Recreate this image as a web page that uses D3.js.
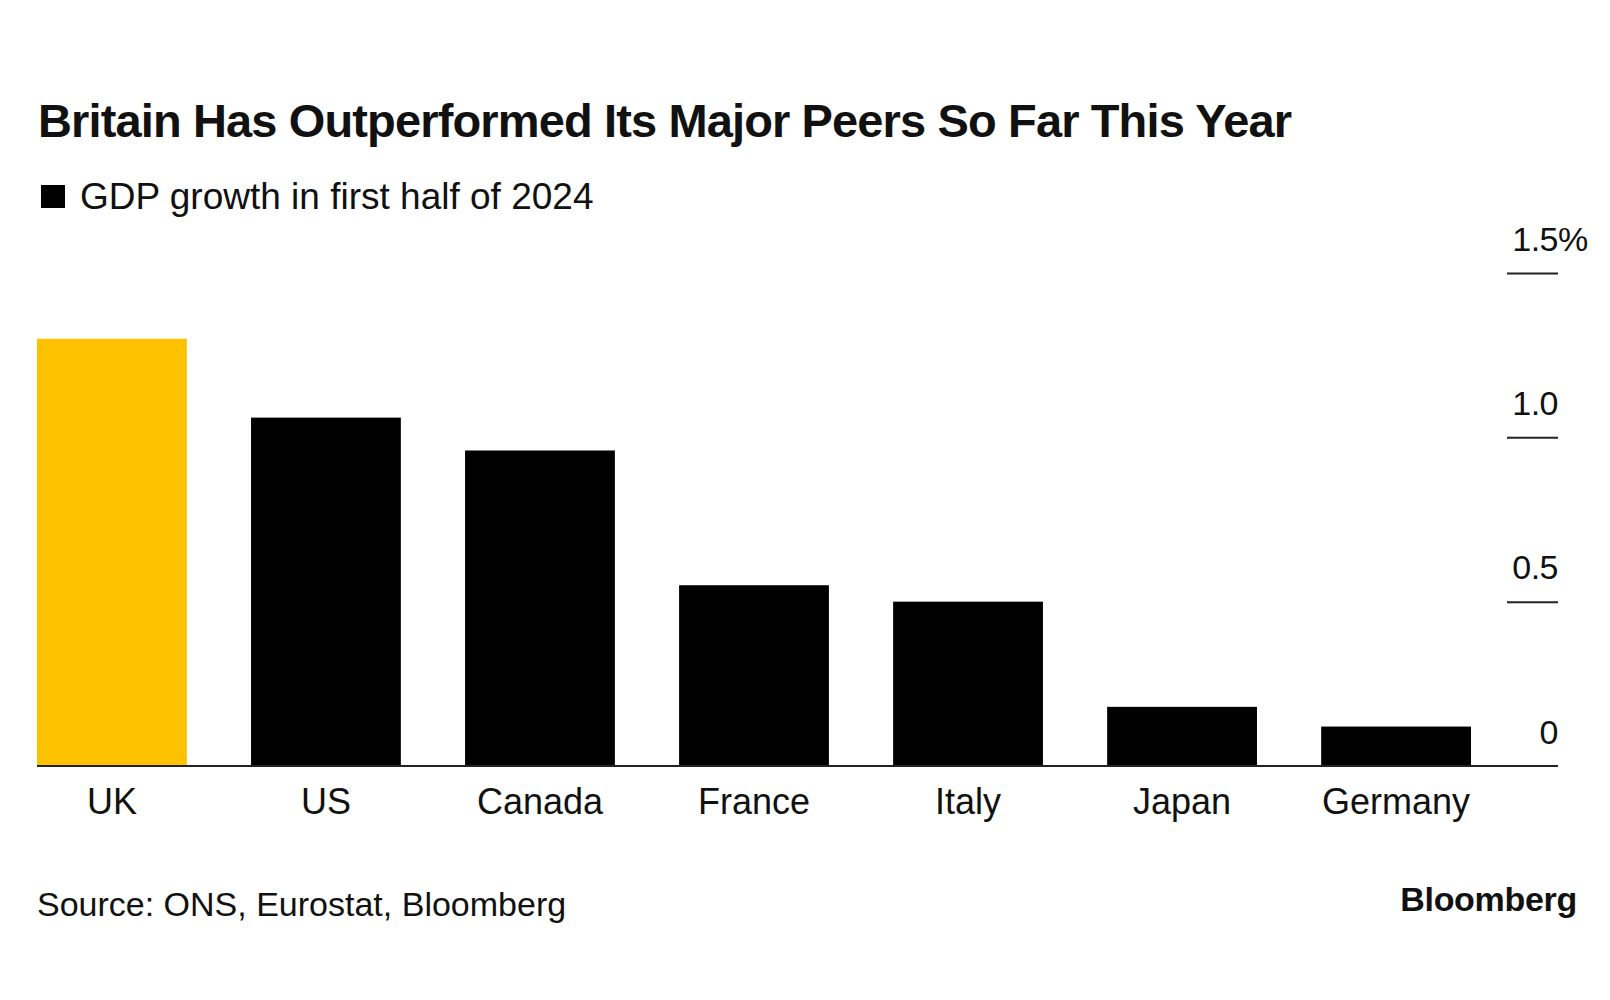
<!DOCTYPE html>
<html>
<head>
<meta charset="utf-8">
<script src="https://cdn.jsdelivr.net/npm/d3@7"></script>
<style>
  html, body { margin: 0; padding: 0; background: #fff; }
  svg { display: block; }
  text { font-family: "Liberation Sans", Arial, Helvetica, sans-serif; fill: #111; }
</style>
</head>
<body>
<svg id="chart" width="1610" height="1000"></svg>
<script>
// ---- Data ----
const categories = ["UK", "US", "Canada", "France", "Italy", "Japan", "Germany"];
const gdpGrowth = [1.30, 1.06, 0.96, 0.55, 0.50, 0.18, 0.12];
const highlight = ["UK"];
const yTicks = [0, 0.5, 1.0, 1.5];
const yTickLabels = ["0", "0.5", "1.0", "1.5"];
const titleText = "Britain Has Outperformed Its Major Peers So Far This Year";
const legendText = "GDP growth in first half of 2024";
const sourceText = "Source: ONS, Eurostat, Bloomberg";
const brandText = "Bloomberg";

// ---- Layout ----
const svg = d3.select("#chart");
const W = 1610, H = 1000;
svg.append("rect").attr("width", W).attr("height", H).attr("fill", "#fff");

const x = d3.scaleBand().domain(categories).range([37, 1471]).paddingInner(0.3).paddingOuter(0);
const y = d3.scaleLinear().domain([0, 1.5]).range([766, 273]);
const axisRight = 1558;

// Title
const title = svg.append("text")
  .attr("x", 38).attr("y", 137)
  .attr("font-size", 47).attr("font-weight", 700)
  .attr("fill", "#000")
  .text(titleText);
const tw = title.node().getComputedTextLength();
if (Math.abs(tw - 1254) > 4) title.attr("textLength", 1254).attr("lengthAdjust", "spacing");

// Legend
svg.append("rect").attr("x", 41).attr("y", 185).attr("width", 24).attr("height", 23).attr("fill", "#000");
svg.append("text").attr("x", 80).attr("y", 208.5).attr("font-size", 37).text(legendText);

// Bars
svg.append("g").selectAll("rect").data(categories).join("rect")
  .attr("x", d => x(d))
  .attr("y", (d, i) => y(gdpGrowth[i]))
  .attr("width", x.bandwidth())
  .attr("height", (d, i) => y(0) - y(gdpGrowth[i]))
  .attr("fill", d => highlight.includes(d) ? "#fcc200" : "#000");

// Baseline
svg.append("line").attr("x1", 37).attr("x2", axisRight).attr("y1", y(0)).attr("y2", y(0))
  .attr("stroke", "#222").attr("stroke-width", 2);

// Y axis ticks (right side)
const yAxis = d3.axisRight(y).tickValues(yTicks).tickSize(0).tickFormat((d, i) => yTickLabels[i]);
const gy = svg.append("g").attr("transform", `translate(${axisRight},0)`).call(yAxis);
gy.select(".domain").remove();
gy.selectAll(".tick text")
  .attr("x", 0).attr("dy", null).attr("y", -23)
  .attr("text-anchor", "end")
  .attr("font-size", 34)
  .attr("letter-spacing", -0.5)
  .attr("fill", "#111")
  .style("font-family", '"Liberation Sans", Arial, sans-serif');
gy.selectAll(".tick").filter(d => d > 0).append("line")
  .attr("x1", -51).attr("x2", 0).attr("y1", 0).attr("y2", 0)
  .attr("stroke", "#222").attr("stroke-width", 2);
gy.selectAll(".tick").filter(d => d === d3.max(yTicks)).append("text")
  .attr("x", 0).attr("y", -23).attr("text-anchor", "start")
  .attr("font-size", 34).attr("fill", "#111")
  .style("font-family", '"Liberation Sans", Arial, sans-serif')
  .text("%");

// X category labels
const xAxis = d3.axisBottom(x).tickSize(0);
const gx = svg.append("g").attr("transform", `translate(0,${y(0)})`).call(xAxis);
gx.select(".domain").remove();
gx.selectAll(".tick text")
  .attr("y", 48).attr("dy", null)
  .attr("font-size", 36).attr("fill", "#111")
  .style("font-family", '"Liberation Sans", Arial, sans-serif');

// Source
svg.append("text").attr("x", 37).attr("y", 916).attr("font-size", 34).text(sourceText);

// Brand
svg.append("text").attr("x", 1577).attr("y", 911).attr("text-anchor", "end")
  .attr("font-size", 34).attr("font-weight", 700).attr("letter-spacing", -0.3)
  .attr("fill", "#000").text(brandText);
</script>
</body>
</html>
